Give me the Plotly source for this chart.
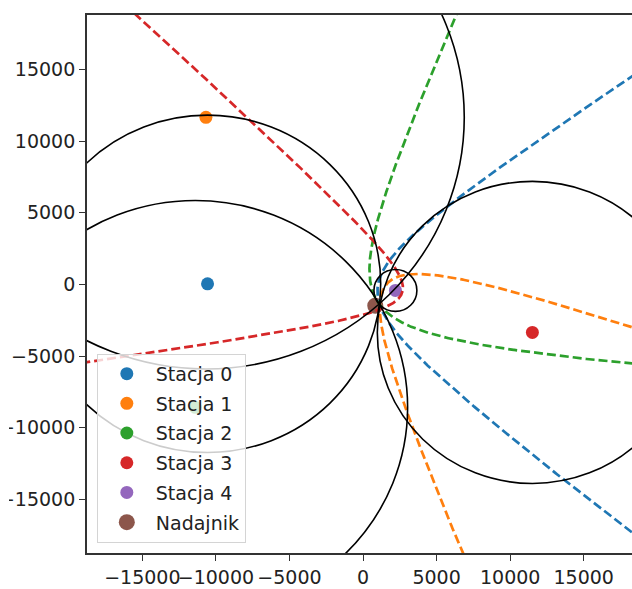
import numpy as np
import plotly.graph_objects as go

# ---- data ----
station_names = ["Stacja 0", "Stacja 1", "Stacja 2", "Stacja 3", "Stacja 4"]
station_x = [-10570, -10680, -11400, 11510, 2200]
station_y = [40, 11660, -8580, -3350, -420]
station_colors = ["#1f77b4", "#ff7f0e", "#2ca02c", "#d62728", "#9467bd"]

transmitter_name = "Nadajnik"
transmitter_x = [830]
transmitter_y = [-1490]
transmitter_color = "#8c564b"

# radius of the black circle drawn around each station
circle_radius = [11770, 17560, 14430, 10540, 1460]

# range difference |P - S_i| - |P - S_ref| for the dashed hyperbola of station i
ref_station = 4
range_diff = [10330, 16170, 12960, 8790]

x_range = [-18763, 18281]
y_range = [-18744, 18800]
tick_vals = [-15000, -10000, -5000, 0, 5000, 10000, 15000]
tick_text = ["\u221215000", "\u221210000", "\u22125000", "0", "5000", "10000", "15000"]

FONT = "DejaVu Sans"
TEXT = "#222222"

W, H = 632, 589
ML, MT, MB = 87, 15, 36

fig = go.Figure()

# station markers
for i, name in enumerate(station_names):
    fig.add_trace(go.Scatter(
        x=[station_x[i]], y=[station_y[i]], mode="markers", name=name,
        legendgroup=name,
        marker=dict(size=13, color=station_colors[i], line=dict(width=0)),
    ))
fig.add_trace(go.Scatter(
    x=transmitter_x, y=transmitter_y, mode="markers", name=transmitter_name,
    legendgroup=transmitter_name,
    marker=dict(size=16, color=transmitter_color, line=dict(width=0)),
))

# dashed hyperbola branches (foci: station i and the reference station)
fx, fy = station_x[ref_station], station_y[ref_station]
for i, d in enumerate(range_diff):
    ux, uy = station_x[i] - fx, station_y[i] - fy
    L = np.hypot(ux, uy)
    base = np.arctan2(uy, ux)
    phi_max = np.arccos(-d / L)
    phi = phi_max * np.linspace(-0.9995, 0.9995, 4001)
    r = (L ** 2 - d ** 2) / (2 * (d + L * np.cos(phi)))
    keep = (r > 0) & (r < 120000)
    px = fx + r[keep] * np.cos(base + phi[keep])
    py = fy + r[keep] * np.sin(base + phi[keep])
    fig.add_trace(go.Scatter(
        x=px, y=py, mode="lines", showlegend=False, hoverinfo="skip",
        line=dict(color=station_colors[i], width=2.7, dash="9px,4px"),
    ))

# black circles around stations
for i in range(len(station_names)):
    cx, cy, rad = station_x[i], station_y[i], circle_radius[i]
    fig.add_shape(type="circle", xref="x", yref="y",
                  x0=cx - rad, x1=cx + rad, y0=cy - rad, y1=cy + rad,
                  line=dict(color="black", width=1.6), layer="above")

# the reference image is cropped a few pixels in from its left edge
plot_w = W - ML
fig.add_shape(type="rect", xref="paper", yref="paper",
              x0=-ML / plot_w, x1=(9 - ML) / plot_w, y0=-0.2, y1=1.2,
              fillcolor="white", line=dict(width=0), layer="above")

axis_common = dict(
    tickvals=tick_vals, ticktext=tick_text, showgrid=False, zeroline=False,
    showline=True, linecolor="#333333", linewidth=1.8,
    ticks="outside", ticklen=6, tickwidth=1.4, tickcolor="#333333",
    tickfont=dict(family=FONT, size=19, color=TEXT),
    automargin=False, tickangle=0,
)

fig.update_layout(
    width=W, height=H,
    margin=dict(l=ML, r=0, t=MT, b=MB),
    paper_bgcolor="white", plot_bgcolor="white",
    font=dict(family=FONT, size=19, color=TEXT),
    xaxis=dict(range=x_range, mirror=True, **axis_common),
    yaxis=dict(range=y_range, mirror=False, **axis_common),
    showlegend=True,
    legend=dict(
        x=0.018, y=0.019, xanchor="left", yanchor="bottom",
        bgcolor="rgba(255,255,255,0.8)", bordercolor="#d4d4d4", borderwidth=1,
        font=dict(family=FONT, size=19, color=TEXT),
        itemsizing="trace", traceorder="grouped", tracegroupgap=2,
        itemwidth=48,
    ),
)

fig.write_html(
    "out.html",
    config={"displayModeBar": False},
    post_script="document.body.style.margin='0px';"
                "document.documentElement.style.overflow='hidden';"
                "document.body.style.overflow='hidden';",
)
